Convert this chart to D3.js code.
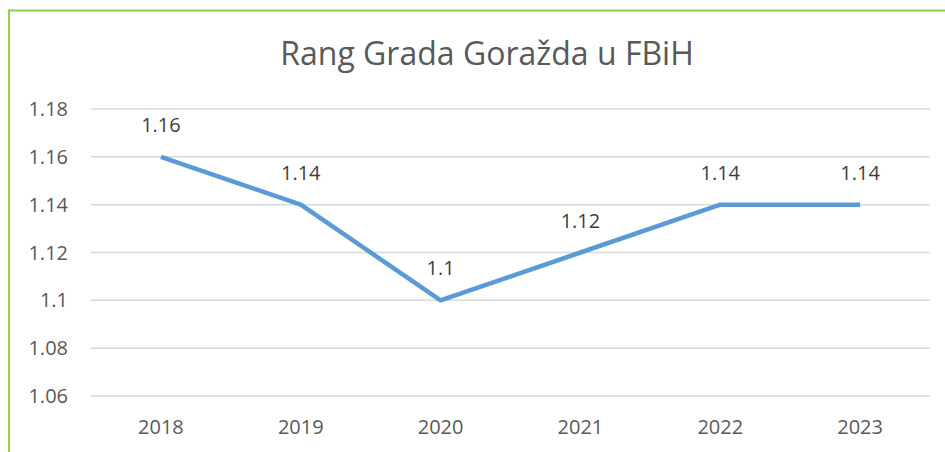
<!DOCTYPE html>
<html>
<head>
<meta charset="utf-8">
<script src="https://cdn.jsdelivr.net/npm/d3@7"></script>
<style>
  body { margin: 0; background: #fff; }
  svg { display: block; font-family: "Open Sans", "Noto Sans", sans-serif; }
</style>
</head>
<body>
<svg id="chart" width="945" height="452"></svg>
<script>
"use strict";

// podaci
var years = ["2018", "2019", "2020", "2021", "2022", "2023"];
var values = [1.16, 1.14, 1.10, 1.12, 1.14, 1.14];
var yTicks = [1.06, 1.08, 1.10, 1.12, 1.14, 1.16, 1.18];
var title = "Rang Grada Goražda u FBiH";

var svg = d3.select("#chart");
var textColor = "#595959";
var fontSize = 20;

// okvir
svg.append("path")
  .attr("d", "M9,452 V10.5 H945")
  .attr("fill", "none")
  .attr("stroke", "#92d050")
  .attr("stroke-width", 2);

var x = d3.scaleBand().domain(years).range([91, 930]);
var y = d3.scaleLinear().domain([1.06, 1.18]).range([396, 109]);

// mreža
svg.append("g")
  .selectAll("line")
  .data(yTicks)
  .enter()
  .append("line")
  .attr("x1", 91)
  .attr("x2", 930)
  .attr("y1", function(d) { return y(d); })
  .attr("y2", function(d) { return y(d); })
  .attr("stroke", "#d9d9d9")
  .attr("stroke-width", 1.5);

// y oznake
svg.append("g")
  .selectAll("text")
  .data(yTicks)
  .enter()
  .append("text")
  .attr("x", 68)
  .attr("y", function(d) { return y(d) + 7; })
  .attr("text-anchor", "end")
  .attr("font-size", fontSize)
  .attr("fill", textColor)
  .text(function(d) { return d3.format("")(+d.toFixed(2)); });

// x oznake
svg.append("g")
  .selectAll("text")
  .data(years)
  .enter()
  .append("text")
  .attr("x", function(d) { return x(d) + x.bandwidth() / 2; })
  .attr("y", 434)
  .attr("text-anchor", "middle")
  .attr("font-size", fontSize)
  .attr("fill", textColor)
  .text(function(d) { return d; });

// linija
var line = d3.line()
  .x(function(d, i) { return x(years[i]) + x.bandwidth() / 2; })
  .y(function(d) { return y(d); });

svg.append("path")
  .datum(values)
  .attr("d", line)
  .attr("fill", "none")
  .attr("stroke", "#5b9bd5")
  .attr("stroke-width", 4.5)
  .attr("stroke-linejoin", "round");

// vrijednosti
svg.append("g")
  .selectAll("text")
  .data(values)
  .enter()
  .append("text")
  .attr("x", function(d, i) { return x(years[i]) + x.bandwidth() / 2; })
  .attr("y", function(d) { return y(d) - 25; })
  .attr("text-anchor", "middle")
  .attr("font-size", fontSize)
  .attr("fill", "#404040")
  .text(function(d) { return d3.format("")(+d.toFixed(2)); });

// naslov
svg.append("text")
  .attr("x", 487)
  .attr("y", 65)
  .attr("text-anchor", "middle")
  .attr("font-size", 32)
  .attr("fill", textColor)
  .text(title);
</script>
</body>
</html>
